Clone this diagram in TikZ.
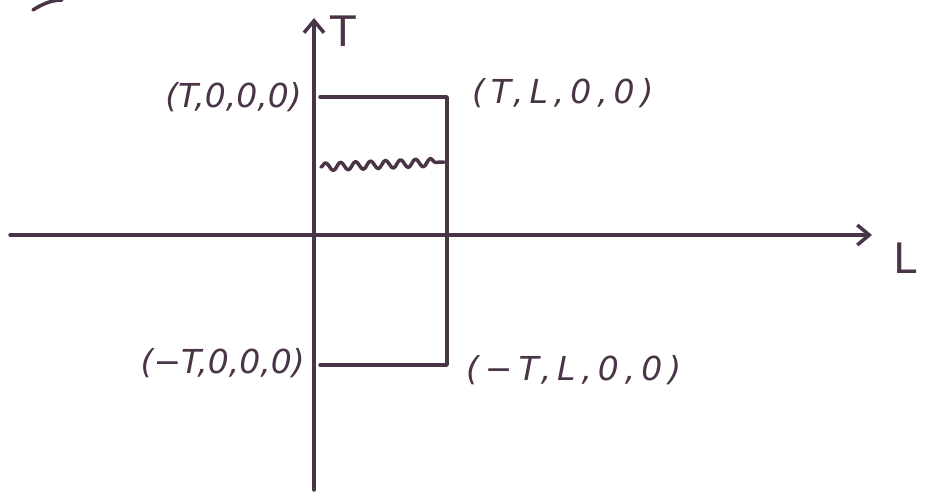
\documentclass[tikz,border=0pt]{standalone}
\usepackage{fontspec}
\setmainfont{DejaVu Sans}
\usetikzlibrary{arrows.meta,decorations.pathmorphing}
\definecolor{ink}{HTML}{4A3548}
\begin{document}
\begin{tikzpicture}[x=1pt,y=-1pt,
  stroke/.style={draw=ink,line width=3.5pt,line cap=round,line join=round},
  axis/.style={stroke,-{Straight Barb[length=12pt,width=20pt,line width=3.5pt]}},
  lbl/.style={text=ink,font=\fontsize{33}{36}\selectfont\itshape,inner sep=0pt},
  wide/.style={font=\fontsize{33}{36}\selectfont\itshape\addfontfeature{LetterSpace=18}},
  big/.style={text=ink,font=\fontsize{42}{44}\selectfont,inner sep=0pt}]
\useasboundingbox (0,0) rectangle (931,492);
% axes
\coordinate (ybot) at (314,490);
\coordinate (ytop) at (314,18);
\coordinate (xl) at (10,235);
\coordinate (xr) at (872,235);
\draw[axis] (ybot) -- (ytop);
\draw[axis] (xl) -- (xr);
\node[big,anchor=west] (tlab) at (330,31) {T};
\node[big,anchor=west] (llab) at (893,258) {L};
% rectangle
\coordinate (a) at (320,97);
\coordinate (b) at (447,97);
\coordinate (c) at (447,365);
\coordinate (d) at (320,365);
\draw[stroke] (a) -- (b) -- (c) -- (d);
% wavy line
\coordinate (w1) at (321,167);
\coordinate (w2) at (444,162);
\draw[stroke,decorate,decoration={snake,amplitude=4pt,segment length=15pt,post length=2pt}] (w1) -- (w2);
% labels
\node[lbl,anchor=east] (p1) at (302,97) {(T,0,0,0)};
\node[lbl,wide,anchor=west] (p2) at (472,93) {(T,L,0,0)};
\node[lbl,anchor=east] (p3) at (305,363) {(−T,0,0,0)};
\node[lbl,wide,anchor=west] (p4) at (466,370) {(−T,L,0,0)};
% partial scribble at top-left
\draw[stroke] (33,10) .. controls (45,2) and (55,0) .. (62,0);
\end{tikzpicture}
\end{document}
